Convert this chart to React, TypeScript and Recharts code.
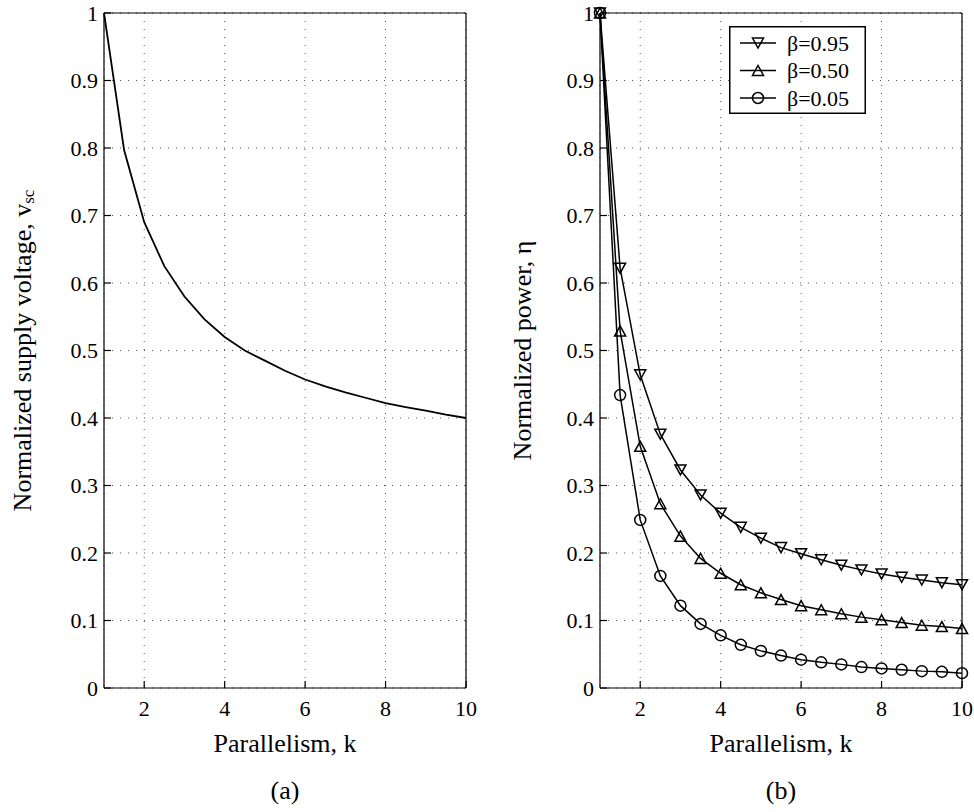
import React from "react";
import { LineChart, Line, XAxis, YAxis, CartesianGrid, Legend, Label } from "recharts";

const FONT = "Liberation Serif, Times New Roman, Times, serif";

const kValues = [1, 1.5, 2, 2.5, 3, 3.5, 4, 4.5, 5, 5.5, 6, 6.5, 7, 7.5, 8, 8.5, 9, 9.5, 10];
const vscValues = [1, 0.797, 0.69, 0.625, 0.58, 0.546, 0.52, 0.5, 0.485, 0.47, 0.457, 0.447, 0.438, 0.43, 0.422, 0.416, 0.411, 0.405, 0.4];
const eta095 = [1, 0.622, 0.464, 0.376, 0.323, 0.286, 0.259, 0.238, 0.222, 0.208, 0.199, 0.19, 0.182, 0.175, 0.169, 0.164, 0.16, 0.156, 0.153];
const eta050 = [1, 0.529, 0.358, 0.273, 0.225, 0.192, 0.17, 0.153, 0.141, 0.131, 0.122, 0.116, 0.11, 0.105, 0.101, 0.097, 0.093, 0.091, 0.088];
const eta005 = [1, 0.434, 0.249, 0.166, 0.122, 0.095, 0.078, 0.064, 0.055, 0.048, 0.042, 0.038, 0.035, 0.031, 0.029, 0.027, 0.025, 0.024, 0.022];

const xTicks = [2, 4, 6, 8, 10];
const yTicks = [0, 0.1, 0.2, 0.3, 0.4, 0.5, 0.6, 0.7, 0.8, 0.9, 1];
const betaLabels = ["β=0.95", "β=0.50", "β=0.05"];
const markerTypes = ["down", "up", "circle"];

const leftData = kValues.map((k, i) => ({ k, v: vscValues[i] }));
const rightData = kValues.map((k, i) => ({ k, b95: eta095[i], b50: eta050[i], b05: eta005[i] }));

const tickStyle = { fill: "#000", fontSize: 22, fontFamily: FONT };
const axisStroke = { stroke: "#000", strokeWidth: 1.2 };

function Marker({ cx, cy, type, sw = 1.5 }: any) {
  if (cx == null || cy == null) return null;
  if (type === "circle")
    return <circle cx={cx} cy={cy} r={5.5} fill="none" stroke="#000" strokeWidth={sw} />;
  const w = 5.5;
  const h = 5;
  const pts =
    type === "down"
      ? `${cx - w},${cy - h} ${cx + w},${cy - h} ${cx},${cy + h}`
      : `${cx - w},${cy + h} ${cx + w},${cy + h} ${cx},${cy - h}`;
  return <polygon points={pts} fill="none" stroke="#000" strokeWidth={sw} />;
}

function YTitle({ viewBox, text, sub, dx }: any) {
  const cx = viewBox.x + dx;
  const cy = viewBox.y + viewBox.height / 2;
  return (
    <text
      x={cx}
      y={cy}
      transform={`rotate(-90 ${cx} ${cy})`}
      textAnchor="middle"
      dominantBaseline="central"
      fontFamily={FONT}
      fontSize={26}
      fill="#000"
    >
      {text}
      {sub && (
        <tspan dy={6} fontSize={17}>
          {sub}
        </tspan>
      )}
    </text>
  );
}

function XTitle({ viewBox, text, dy }: any) {
  return (
    <text
      x={viewBox.x + viewBox.width / 2}
      y={viewBox.y + dy}
      textAnchor="middle"
      dominantBaseline="central"
      fontFamily={FONT}
      fontSize={26}
      fill="#000"
    >
      {text}
    </text>
  );
}

function LegendBox() {
  return (
    <svg width={137} height={88} style={{ display: "block" }}>
      <rect x={0.75} y={0.75} width={135.5} height={86.5} fill="#fff" stroke="#000" strokeWidth={1.5} />
      {betaLabels.map((lab, i) => {
        const y = 17 + i * 27.5;
        return (
          <g key={lab}>
            <line x1={11} x2={47} y1={y} y2={y} stroke="#000" strokeWidth={1.5} />
            <Marker cx={29} cy={y} type={markerTypes[i]} />
            <text x={58} y={y} dominantBaseline="central" fontFamily={FONT} fontSize={22} fill="#000">
              {lab}
            </text>
          </g>
        );
      })}
    </svg>
  );
}

export default function App() {
  return (
    <div style={{ position: "absolute", left: 0, top: 0, width: 974, height: 812, background: "#fff" }}>
      <div style={{ position: "absolute", left: 0, top: 0 }}>
        <LineChart width={480} height={812} data={leftData} margin={{ top: 12, right: 13, bottom: 24, left: 0 }}>
          <CartesianGrid stroke="#555" strokeDasharray="1 7" />
          <XAxis
            dataKey="k"
            type="number"
            domain={[1, 10]}
            ticks={xTicks}
            tickSize={-7}
            tickMargin={19}
            height={100}
            tick={tickStyle}
            axisLine={axisStroke}
            tickLine={axisStroke}
          >
            <Label content={(p: any) => <XTitle {...p} text="Parallelism, k" dy={55} />} />
            <Label content={(p: any) => <XTitle {...p} text="(a)" dy={102} />} />
          </XAxis>
          <XAxis
            xAxisId="top"
            orientation="top"
            dataKey="k"
            type="number"
            domain={[1, 10]}
            ticks={xTicks}
            tickSize={-7}
            height={1}
            tick={false}
            axisLine={axisStroke}
            tickLine={axisStroke}
          />
          <YAxis
            type="number"
            domain={[0, 1]}
            ticks={yTicks}
            tickSize={-7}
            tickMargin={13}
            width={104}
            tick={tickStyle}
            axisLine={axisStroke}
            tickLine={axisStroke}
          >
            <Label content={(p: any) => <YTitle {...p} text="Normalized supply voltage, v" sub="sc" dx={22} />} />
          </YAxis>
          <YAxis
            yAxisId="right"
            orientation="right"
            type="number"
            domain={[0, 1]}
            ticks={yTicks}
            tickSize={-7}
            width={1}
            tick={false}
            axisLine={axisStroke}
            tickLine={axisStroke}
          />
          <Line type="linear" dataKey="v" stroke="#000" strokeWidth={1.8} dot={false} isAnimationActive={false} />
        </LineChart>
      </div>
      <div style={{ position: "absolute", left: 480, top: 0 }}>
        <LineChart width={494} height={812} data={rightData} margin={{ top: 12, right: 11, bottom: 24, left: 0 }}>
          <CartesianGrid stroke="#555" strokeDasharray="1 7" />
          <XAxis
            dataKey="k"
            type="number"
            domain={[1, 10]}
            ticks={xTicks}
            tickSize={-7}
            tickMargin={19}
            height={100}
            tick={tickStyle}
            axisLine={axisStroke}
            tickLine={axisStroke}
          >
            <Label content={(p: any) => <XTitle {...p} text="Parallelism, k" dy={55} />} />
            <Label content={(p: any) => <XTitle {...p} text="(b)" dy={102} />} />
          </XAxis>
          <XAxis
            xAxisId="top"
            orientation="top"
            dataKey="k"
            type="number"
            domain={[1, 10]}
            ticks={xTicks}
            tickSize={-7}
            height={1}
            tick={false}
            axisLine={axisStroke}
            tickLine={axisStroke}
          />
          <YAxis
            type="number"
            domain={[0, 1]}
            ticks={yTicks}
            tickSize={-7}
            tickMargin={13}
            width={120}
            tick={tickStyle}
            axisLine={axisStroke}
            tickLine={axisStroke}
          >
            <Label content={(p: any) => <YTitle {...p} text="Normalized power, η" dx={42} />} />
          </YAxis>
          <YAxis
            yAxisId="right"
            orientation="right"
            type="number"
            domain={[0, 1]}
            ticks={yTicks}
            tickSize={-7}
            width={1}
            tick={false}
            axisLine={axisStroke}
            tickLine={axisStroke}
          />
          <Legend
            layout="vertical"
            align="center"
            verticalAlign="middle"
            wrapperStyle={{ left: 249, top: 26, width: 137, height: 88 }}
            content={() => <LegendBox />}
          />
          <Line
            type="linear"
            dataKey="b95"
            stroke="#000"
            strokeWidth={1.5}
            isAnimationActive={false}
            dot={(p: any) => <Marker key={`a${p.index}`} cx={p.cx} cy={p.cy} type="down" />}
          />
          <Line
            type="linear"
            dataKey="b50"
            stroke="#000"
            strokeWidth={1.5}
            isAnimationActive={false}
            dot={(p: any) => <Marker key={`b${p.index}`} cx={p.cx} cy={p.cy} type="up" />}
          />
          <Line
            type="linear"
            dataKey="b05"
            stroke="#000"
            strokeWidth={1.5}
            isAnimationActive={false}
            dot={(p: any) => <Marker key={`c${p.index}`} cx={p.cx} cy={p.cy} type="circle" />}
          />
        </LineChart>
      </div>
    </div>
  );
}
